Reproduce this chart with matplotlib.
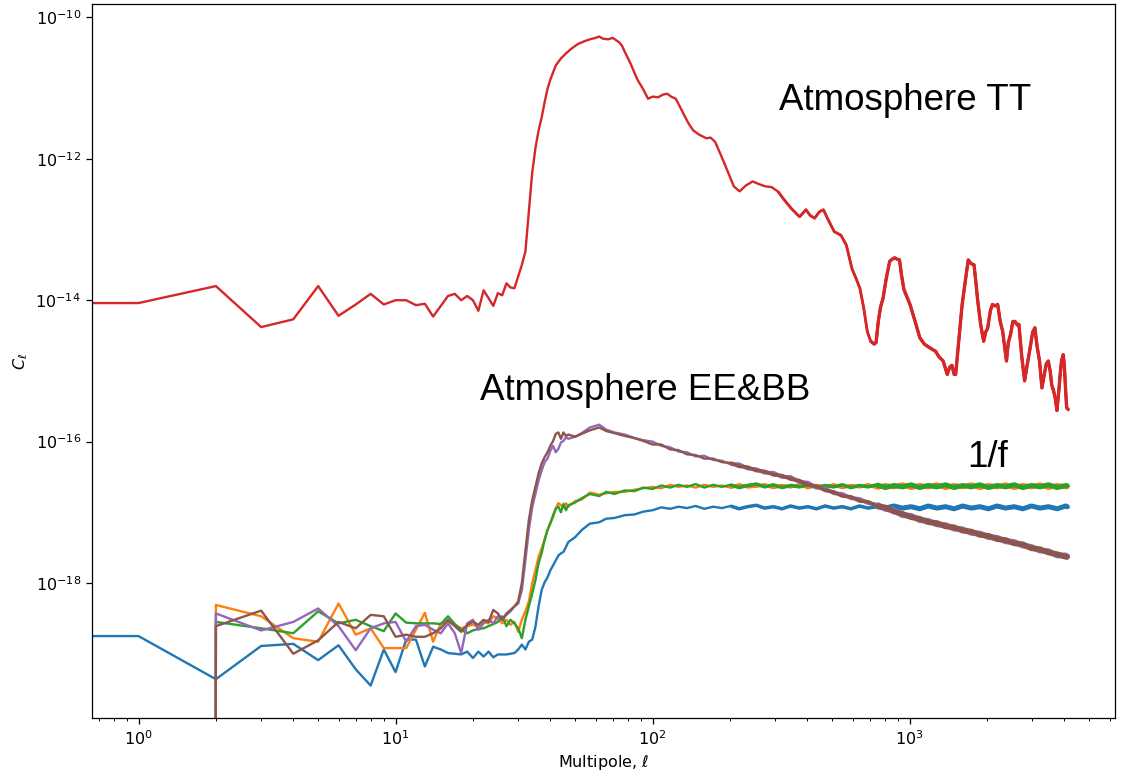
import numpy as np
import matplotlib
matplotlib.use("Agg")
import matplotlib.pyplot as plt

# multipoles
ell_lo = list(range(48))
ell_mid = [50, 53, 57, 62, 66, 71, 78, 85, 92]
ell_hi = [100, 108, 117, 126, 136, 147, 159, 172, 186, 201,
          217, 234, 253, 273, 295, 319, 344, 372, 402, 434,
          469, 506, 547, 591, 638, 689, 744, 804, 868, 938,
          1013, 1094, 1181, 1276, 1378, 1488, 1607, 1736, 1875, 2025,
          2187, 2362, 2551, 2755, 2975, 3213, 3470, 3748, 4048, 4150]

# log10(C_ell)
# 1/f noise, T (ell 0..47)
blue_lo = [-18.75, -18.75, -19.36, -18.89, -18.86, -19.09, -18.88, -19.22, -19.45, -18.94,
           -19.26, -18.80, -18.80, -19.18, -18.90, -18.94, -18.99, -19.00, -19.01, -18.97,
           -19.06, -18.97, -19.04, -18.97, -19.05, -19.01, -19.01, -19.01, -19.00, -18.99,
           -18.94, -18.87, -18.94, -18.83, -18.80, -18.62, -18.33, -18.10, -17.99, -17.92,
           -17.82, -17.75, -17.68, -17.61, -17.58, -17.56, -17.49, -17.42]
blue_mid = [-17.35, -17.25, -17.16, -17.14, -17.09, -17.08, -17.04, -17.03, -16.99]
blue_hi = [-16.97, -16.93, -16.95, -16.92, -16.94, -16.91, -16.95, -16.92, -16.94, -16.91,
           -16.95, -16.92, -16.90, -16.94, -16.92, -16.95, -16.91, -16.94, -16.92, -16.95,
           -16.91, -16.94, -16.92, -16.95, -16.91, -16.94, -16.92, -16.94, -16.91, -16.94,
           -16.92, -16.95, -16.91, -16.94, -16.92, -16.95, -16.91, -16.94, -16.92, -16.95,
           -16.91, -16.94, -16.92, -16.95, -16.91, -16.94, -16.92, -16.95, -16.91, -16.93]

# polarisation spectra start at ell = 2 (ell 0, 1 are zero)
orange_lo = [-18.31, -18.47, -18.78, -18.83, -18.29, -18.73, -18.64, -18.92, -18.92, -18.92,
             -18.66, -18.42, -18.83, -18.57, -18.55, -18.59, -18.64, -18.61, -18.59, -18.61,
             -18.55, -18.57, -18.47, -18.50, -18.57, -18.52, -18.59, -18.55, -18.69, -18.52,
             -18.40, -18.26, -18.00, -17.82, -17.63, -17.51, -17.39, -17.25, -17.14, -17.07,
             -16.94, -16.87, -16.90, -16.93, -16.87, -16.92]
orange_mid = [-16.84, -16.82, -16.72, -16.75, -16.73, -16.71, -16.71, -16.68, -16.66]
orange_hi = [-16.64, -16.66, -16.61, -16.64, -16.62, -16.65, -16.61, -16.64, -16.62, -16.65,
             -16.61, -16.64, -16.63, -16.61, -16.65, -16.62, -16.64, -16.61, -16.65, -16.62,
             -16.64, -16.61, -16.65, -16.62, -16.64, -16.61, -16.65, -16.62, -16.64, -16.61,
             -16.65, -16.62, -16.64, -16.61, -16.65, -16.62, -16.64, -16.61, -16.65, -16.62,
             -16.64, -16.61, -16.65, -16.62, -16.64, -16.61, -16.65, -16.62, -16.64, -16.63]

green_lo = [-18.55, -18.64, -18.71, -18.40, -18.57, -18.52, -18.61, -18.68, -18.43, -18.56,
            -18.57, -18.57, -18.57, -18.58, -18.47, -18.58, -18.66, -18.71, -18.67, -18.65,
            -18.64, -18.61, -18.58, -18.55, -18.47, -18.61, -18.52, -18.57, -18.64, -18.78,
            -18.52, -18.33, -18.15, -17.96, -17.72, -17.58, -17.39, -17.25, -17.16, -17.04,
            -16.95, -16.92, -17.00, -16.88, -16.97, -16.90]
green_mid = [-16.86, -16.80, -16.74, -16.77, -16.71, -16.74, -16.69, -16.70, -16.65]
green_hi = [-16.67, -16.62, -16.65, -16.61, -16.64, -16.60, -16.65, -16.61, -16.64, -16.61,
            -16.65, -16.62, -16.60, -16.64, -16.61, -16.65, -16.62, -16.64, -16.61, -16.65,
            -16.62, -16.64, -16.61, -16.65, -16.62, -16.64, -16.61, -16.65, -16.62, -16.64,
            -16.61, -16.65, -16.62, -16.64, -16.61, -16.65, -16.62, -16.64, -16.61, -16.65,
            -16.62, -16.64, -16.61, -16.65, -16.62, -16.64, -16.61, -16.65, -16.62, -16.63]

purple_lo = [-18.43, -18.67, -18.55, -18.36, -18.61, -18.95, -18.64, -18.57, -18.55, -18.83,
             -18.61, -18.59, -18.66, -18.71, -18.57, -18.71, -18.99, -18.57, -18.52, -18.66,
             -18.57, -18.52, -18.57, -18.47, -18.52, -18.45, -18.40, -18.33, -18.29, -18.10,
             -17.68, -17.25, -16.93, -16.74, -16.55, -16.41, -16.29, -16.24, -16.13, -16.06,
             -16.15, -16.10, -16.01, -15.99, -15.94, -15.96]
purple_mid = [-15.93, -15.88, -15.80, -15.76, -15.83, -15.87, -15.90, -15.95, -15.98]
purple_hi = [-16.00, -16.06, -16.08, -16.14, -16.15, -16.21, -16.20, -16.26, -16.27, -16.32,
             -16.32, -16.38, -16.39, -16.44, -16.44, -16.50, -16.50, -16.57, -16.58, -16.65,
             -16.66, -16.73, -16.74, -16.80, -16.81, -16.87, -16.89, -16.95, -16.97, -17.04,
             -17.05, -17.11, -17.12, -17.17, -17.18, -17.23, -17.24, -17.29, -17.30, -17.35,
             -17.36, -17.41, -17.42, -17.47, -17.49, -17.54, -17.55, -17.61, -17.61, -17.64]

brown_lo = [-18.61, -18.39, -19.00, -18.81, -18.55, -18.64, -18.45, -18.47, -18.76, -18.73,
            -18.76, -18.76, -18.71, -18.64, -18.52, -18.61, -18.69, -18.59, -18.55, -18.59,
            -18.52, -18.55, -18.38, -18.43, -18.52, -18.43, -18.38, -18.33, -18.26, -18.00,
            -17.54, -17.11, -16.83, -16.64, -16.45, -16.31, -16.22, -16.15, -16.06, -15.99,
            -15.89, -15.87, -15.96, -15.87, -15.92, -15.90]
brown_mid = [-15.93, -15.89, -15.84, -15.80, -15.85, -15.88, -15.92, -15.95, -15.99]
brown_hi = [-16.04, -16.04, -16.11, -16.12, -16.18, -16.19, -16.24, -16.24, -16.29, -16.30,
            -16.35, -16.36, -16.41, -16.42, -16.47, -16.48, -16.53, -16.55, -16.61, -16.63,
            -16.69, -16.71, -16.77, -16.78, -16.84, -16.85, -16.91, -16.93, -16.99, -17.02,
            -17.07, -17.09, -17.14, -17.15, -17.20, -17.21, -17.26, -17.27, -17.32, -17.33,
            -17.38, -17.39, -17.44, -17.45, -17.51, -17.52, -17.57, -17.59, -17.63, -17.63]

# atmosphere TT
tt_ell = list(range(33)) + [
    33, 34, 35, 36, 37, 38, 39, 40, 42, 44, 46, 48, 51, 54, 57, 60, 62, 64, 67, 70,
    74, 76, 78, 82, 87, 92, 96, 100, 105, 110, 114, 118, 123, 128, 133, 138, 144, 152,
    162, 168, 175, 182, 189, 198, 207, 218, 230, 245, 260, 275, 290, 307, 325, 346,
    373, 395, 410, 427, 445, 462, 480, 509, 540, 567, 596, 620, 640, 662, 684, 705,
    727, 740, 755, 770, 788, 810, 836, 855, 874, 893, 913, 930, 950, 975, 1003, 1050,
    1095, 1140, 1194, 1230, 1260, 1300, 1350, 1400, 1430, 1460, 1490, 1510, 1550, 1600,
    1650, 1690, 1730, 1780, 1810, 1840, 1890, 1940, 1975, 2010, 2060, 2100, 2150, 2200,
    2250, 2300, 2380, 2420, 2470, 2520, 2570, 2620, 2660, 2730, 2800, 2870, 2940, 3010,
    3070, 3130, 3200, 3270, 3340, 3400, 3460, 3520, 3570, 3630, 3690, 3740, 3800, 3850,
    3900, 3960, 4000, 4040, 4080, 4150]
tt_log = [
    -14.04, -14.04, -13.80, -14.38, -14.27, -13.80, -14.22, -14.06, -13.91, -14.06,
    -14.00, -14.00, -14.07, -14.05, -14.23, -14.08, -13.94, -13.91, -14.00, -13.94,
    -14.00, -14.15, -13.86, -13.97, -14.08, -13.90, -13.93, -13.76, -13.82, -13.83,
    -13.66, -13.50, -13.31,
    -12.75, -12.20, -11.85, -11.60, -11.42, -11.20, -11.01, -10.88, -10.68, -10.58,
    -10.51, -10.45, -10.38, -10.34, -10.31, -10.29, -10.27, -10.30, -10.31, -10.29,
    -10.35, -10.40, -10.49, -10.65, -10.87, -11.02, -11.15, -11.12, -11.13, -11.09,
    -11.08, -11.12, -11.15, -11.27, -11.39, -11.50, -11.60, -11.66,
    -11.71, -11.70, -11.76, -11.90, -12.04, -12.22, -12.39, -12.46, -12.38, -12.32,
    -12.36, -12.39, -12.40, -12.46, -12.58, -12.70,
    -12.82, -12.72, -12.80, -12.84, -12.75, -12.72, -12.85, -13.03, -13.08, -13.22,
    -13.55, -13.70, -13.83, -14.10, -14.44, -14.58,
    -14.62, -14.60, -14.30, -14.10, -13.97, -13.70, -13.45, -13.42, -13.40, -13.42,
    -13.43, -13.65, -13.85, -13.95, -14.06, -14.30,
    -14.53, -14.62, -14.67, -14.70, -14.72, -14.80, -14.86, -15.05, -14.95, -14.92,
    -15.05, -15.05, -14.60, -14.06,
    -13.70, -13.43, -13.48, -13.50, -13.75, -14.01, -14.35, -14.58, -14.45, -14.40,
    -14.15, -14.06, -14.08, -14.06,
    -14.30, -14.44, -14.86, -14.60, -14.48, -14.30, -14.30, -14.35, -14.34, -14.80,
    -15.14, -14.90, -14.68, -14.45,
    -14.39, -14.65, -14.86, -15.24, -15.05, -14.90, -14.86, -15.00, -15.20, -15.28,
    -15.40, -15.56, -15.30, -15.05,
    -14.85, -14.77, -14.95, -15.25, -15.52, -15.55]

ell = np.array(ell_lo + ell_mid + ell_hi)
tt_ell = np.array(tt_ell)


def spectrum(lo, mid, hi, n_zero=0):
    logs = np.array(lo + mid + hi)
    return np.concatenate([np.zeros(n_zero), 10.0 ** logs])


cl_blue = spectrum(blue_lo, blue_mid, blue_hi)
cl_orange = spectrum(orange_lo, orange_mid, orange_hi, n_zero=2)
cl_green = spectrum(green_lo, green_mid, green_hi, n_zero=2)
cl_purple = spectrum(purple_lo, purple_mid, purple_hi, n_zero=2)
cl_brown = spectrum(brown_lo, brown_mid, brown_hi, n_zero=2)
cl_tt = 10.0 ** np.array(tt_log)

plt.rcParams['font.size'] = 11.5
fig = plt.figure(figsize=(11.22, 7.77), dpi=100)
ax = fig.add_axes([0.082, 0.0759, 0.9118, 0.9189])

lw = 1.7


def draw(x, y, color, thick=(2.5, 3.6), start=(200, 700)):
    # the noisy high-ell part shows up as a wider band
    ax.loglog(x, y, color=color, lw=lw)
    m1 = x >= start[0]
    ax.loglog(x[m1], y[m1], color=color, lw=thick[0], solid_capstyle='butt')
    m2 = x >= start[1]
    ax.loglog(x[m2], y[m2], color=color, lw=thick[1], solid_capstyle='butt')


draw(ell, cl_blue, 'C0')
draw(ell, cl_orange, 'C1')
draw(ell, cl_green, 'C2')
draw(tt_ell, cl_tt, 'C3', thick=(2.0, 2.4), start=(300, 700))
draw(ell, cl_purple, 'C4', thick=(2.8, 4.2))
draw(ell, cl_brown, 'C5', thick=(2.6, 4.0))

ax.set_xlabel(r'Multipole, $\ell$', fontsize=11.5)
ax.set_ylabel(r'$C_\ell$', fontsize=11.5)
ax.tick_params(which='major', length=4, width=0.9, labelsize=11.5, pad=4)
ax.tick_params(which='minor', length=2.3, width=0.7)
ax.yaxis.set_minor_locator(matplotlib.ticker.NullLocator())
for s in ax.spines.values():
    s.set_linewidth(0.9)

font = dict(family=['Liberation Sans', 'DejaVu Sans'], fontsize=26.5, color='black')
ax.text(0.6716, 0.8515, 'Atmosphere TT', transform=ax.transAxes, ha='left', va='baseline', **font)
ax.text(0.3793, 0.4454, 'Atmosphere EE&BB', transform=ax.transAxes, ha='left', va='baseline', **font)
ax.text(0.856, 0.352, '1/f', transform=ax.transAxes, ha='left', va='baseline', **font)

fig.savefig('out.png', dpi=100)
